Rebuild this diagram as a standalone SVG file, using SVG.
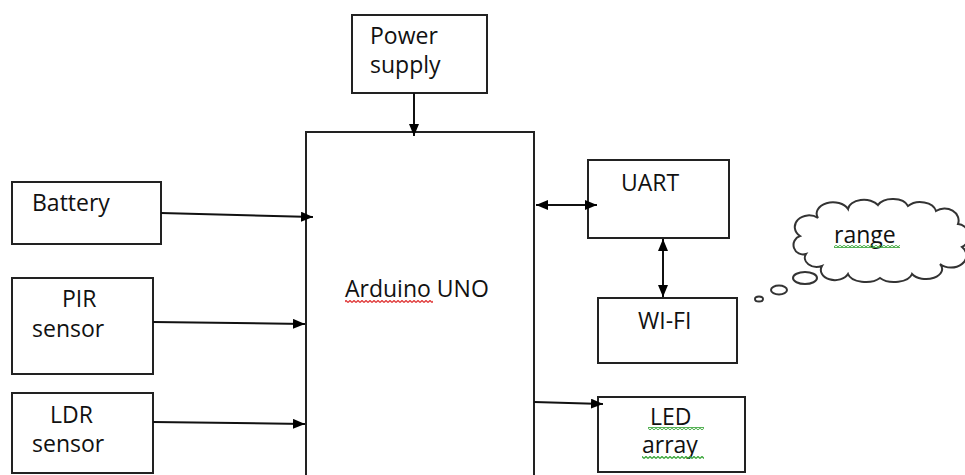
<svg xmlns="http://www.w3.org/2000/svg" width="965" height="475" viewBox="0 0 965 475">
<style>
.box{fill:#fff;stroke:#222;stroke-width:2}
.lbl{font-family:"Open Sans","Liberation Sans",sans-serif;font-size:23px;fill:#111}
.con{stroke:#111;stroke-width:2;fill:none}
.cloud{fill:#fff;stroke:#333;stroke-width:2}
</style>
<defs>
<marker id="ah" viewBox="0 0 12 10" refX="12" refY="5" markerWidth="12" markerHeight="10" markerUnits="userSpaceOnUse" orient="auto-start-reverse">
<path d="M0,0 L12,5 L0,10 z" fill="#000"/>
</marker>
<pattern id="wavyG" width="4" height="3" patternUnits="userSpaceOnUse">
<path d="M0,2.5 L2,0.5 L4,2.5" stroke="#3aa63a" stroke-width="1.3" fill="none"/>
</pattern>
<pattern id="wavyR" width="4" height="3" patternUnits="userSpaceOnUse">
<path d="M0,2.5 L2,0.5 L4,2.5" stroke="#e03a3a" stroke-width="1.3" fill="none"/>
</pattern>
</defs>
<rect width="965" height="475" fill="#fff"/>

<g id="arduino">
<rect class="box" x="306" y="132" width="228" height="360"/>
<text class="lbl" x="345" y="297">Arduino UNO</text>
<rect x="345" y="300" width="88" height="3" fill="url(#wavyR)"/>
</g>
<g id="power">
<rect class="box" x="352" y="15" width="135" height="78"/>
<text class="lbl" x="370" y="44">Power</text>
<text class="lbl" x="370" y="73">supply</text>
</g>
<g id="battery">
<rect class="box" x="12" y="182" width="149" height="62"/>
<text class="lbl" x="32" y="211">Battery</text>
</g>
<g id="pir">
<rect class="box" x="12" y="278" width="141" height="96"/>
<text class="lbl" x="62" y="307">PIR</text>
<text class="lbl" x="32" y="337">sensor</text>
</g>
<g id="ldr">
<rect class="box" x="12" y="393" width="141" height="80"/>
<text class="lbl" x="50" y="423">LDR</text>
<text class="lbl" x="32" y="452">sensor</text>
</g>
<g id="uart">
<rect class="box" x="588" y="160" width="141" height="78"/>
<text class="lbl" x="621" y="191">UART</text>
</g>
<g id="wifi">
<rect class="box" x="598" y="298" width="139" height="65"/>
<text class="lbl" x="638" y="329">WI-FI</text>
</g>
<g id="led">
<rect class="box" x="598" y="397" width="147" height="75"/>
<text class="lbl" x="650" y="425">LED</text>
<rect x="648" y="427" width="56" height="3" fill="url(#wavyG)"/>
<text class="lbl" x="642" y="453">array</text>
<rect x="642" y="456" width="62" height="3" fill="url(#wavyG)"/>
</g>
<g id="range">
<path class="cloud" d="M800 236 A11 9 0 0 1 818 218 A16 11 0 0 1 848 209 A16 10 0 0 1 878 205 A16 10 0 0 1 908 206 A16 11 0 0 1 936 211 A14 12 0 0 1 958 224 A11 12 0 0 1 962 247 A14 11 0 0 1 940 264 A16 10 0 0 1 912 274 A18 10 0 0 1 880 278 A18 10 0 0 1 848 274 A14 10 0 0 1 822 266 A12 9 0 0 1 806 254 A9 9 0 0 1 800 236 Z"/>
<ellipse class="cloud" cx="805" cy="278" rx="12" ry="6"/>
<ellipse class="cloud" cx="779" cy="290" rx="8" ry="4.5"/>
<ellipse class="cloud" cx="759" cy="299" rx="4" ry="2.5"/>
<text class="lbl" x="834" y="243">range</text>
<rect x="834" y="245" width="66" height="3" fill="url(#wavyG)"/>
</g>

<g id="connectors">
<line class="con" x1="414" y1="93" x2="414" y2="136" marker-end="url(#ah)"/>
<line class="con" x1="161" y1="213" x2="313" y2="217" marker-end="url(#ah)"/>
<line class="con" x1="153" y1="322" x2="305" y2="324" marker-end="url(#ah)"/>
<line class="con" x1="153" y1="422" x2="305" y2="424" marker-end="url(#ah)"/>
<line class="con" x1="536" y1="205" x2="597" y2="205" marker-start="url(#ah)" marker-end="url(#ah)"/>
<line class="con" x1="663" y1="239" x2="663" y2="297" marker-start="url(#ah)" marker-end="url(#ah)"/>
<line class="con" x1="534" y1="402" x2="603" y2="404" marker-end="url(#ah)"/>
</g>
</svg>
